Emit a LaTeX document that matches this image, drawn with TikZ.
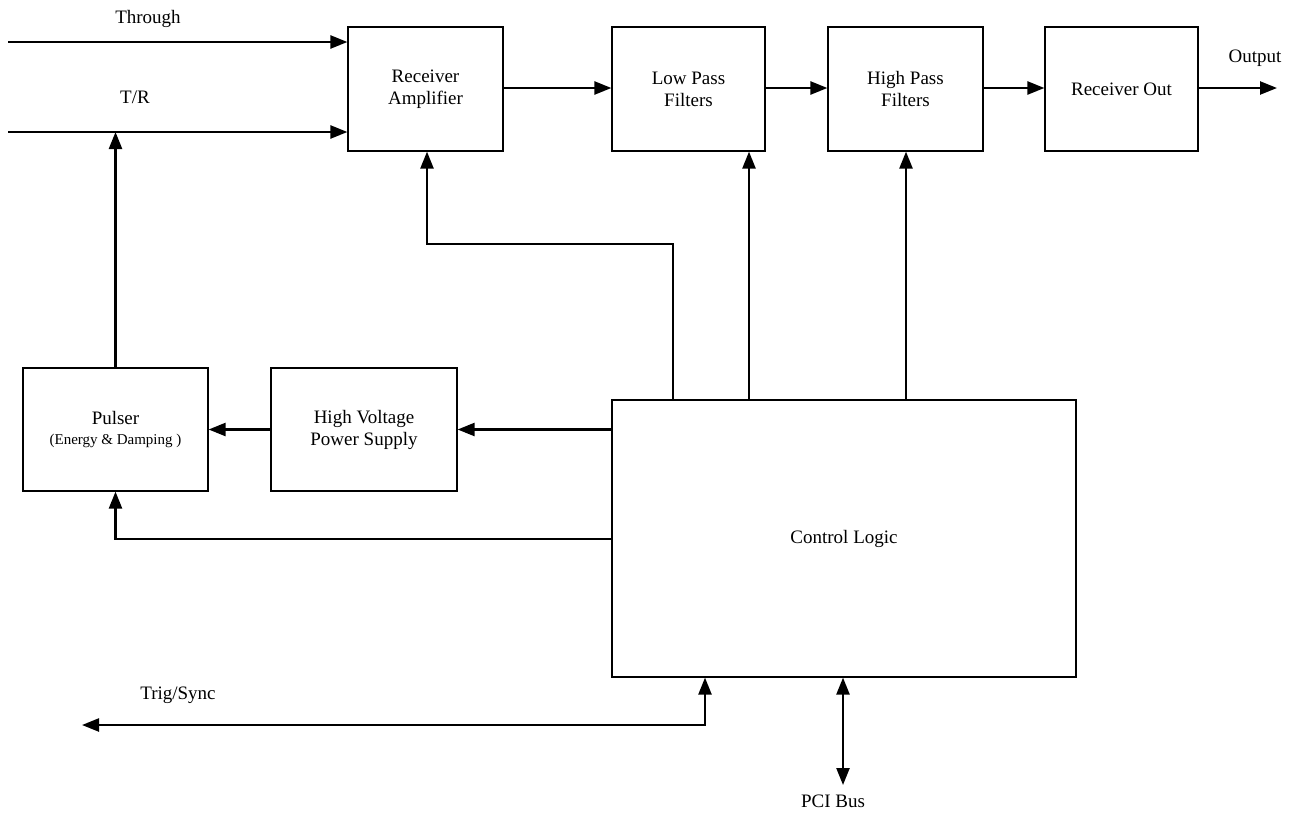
\documentclass[tikz,border=0pt]{standalone}
\usepackage{fontspec}
\setmainfont{Liberation Serif}
\usetikzlibrary{arrows.meta,positioning}
\begin{document}
\begin{tikzpicture}[x=1pt,y=-1pt,
  blk/.style={draw,line width=1.2pt,inner sep=0pt,align=center,font=\fontsize{19}{22}\selectfont},
  tip/.tip={Triangle[length=17pt,width=13pt]},
  con/.style={line width=2.4pt,-tip},
  bicon/.style={line width=2.4pt,tip-tip},
  lbl/.style={font=\fontsize{19}{22}\selectfont,inner sep=0pt}]
\useasboundingbox (0,0) rectangle (1295,817);
% blocks
\node[blk,minimum width=155pt,minimum height=124pt] (ra) at (425.5,89) {Receiver\\Amplifier};
\node[blk,minimum width=153pt,minimum height=124pt] (lp) at (688.5,89) {Low Pass\\Filters};
\node[blk,minimum width=155pt,minimum height=124pt] (hp) at (905.5,89) {High Pass\\Filters};
\node[blk,minimum width=153pt,minimum height=124pt] (ro) at (1121.5,89) {Receiver Out};
\node[blk,minimum width=185pt,minimum height=123pt] (pu) at (115.5,429.5) {Pulser\\[-2pt]{\fontsize{15}{18}\selectfont(Energy \& Damping )}};
\node[blk,minimum width=186pt,minimum height=123pt] (hv) at (364,429.5) {High Voltage\\Power Supply};
\node[blk,minimum width=464pt,minimum height=277pt] (cl) at (844,538.5) {Control Logic};
% coordinates
\coordinate (thin) at (8,42);
\coordinate (trin) at (8,132);
\coordinate (out) at (1277,88);
\coordinate (trig) at (82,725);
\coordinate (pci) at (843,785);
% inputs
\draw[con] (thin) -- (ra.west |- thin);
\draw[con] (trin) -- (ra.west |- trin);
\node[lbl] (tl) at (148,19) {Through};
\node[lbl] (trl) at (135,97) {T/R};
\draw[con] (pu.north) -- (pu.north |- trin);
% chain
\draw[con] (ra.east |- 0,88) -- (lp.west |- 0,88);
\draw[con] (lp.east |- 0,88) -- (hp.west |- 0,88);
\draw[con] (hp.east |- 0,88) -- (ro.west |- 0,88);
\draw[con] (ro.east |- 0,88) -- (out);
\node[lbl] (ol) at (1255,58) {Output};
% pulser side
\draw[con] (hv.west) -- (pu.east);
\draw[con] (cl.west |- hv.west) -- (hv.east);
\draw[con] (cl.west |- 0,539) -| (pu.south);
% control up
\draw[con] (cl.north -| 673,0) |- (427,244) -- (ra.south -| 427,0);
\draw[con] (cl.north -| 749,0) -- (lp.south -| 749,0);
\draw[con] (cl.north -| 906,0) -- (hp.south -| 906,0);
% bottom
\draw[bicon] (cl.south -| 705,0) |- (trig);
\node[lbl] (tsl) at (178,695) {Trig/Sync};
\draw[bicon] (cl.south -| pci) -- (pci);
\node[lbl] (pl) at (833,801) {PCI Bus};
\end{tikzpicture}
\end{document}
